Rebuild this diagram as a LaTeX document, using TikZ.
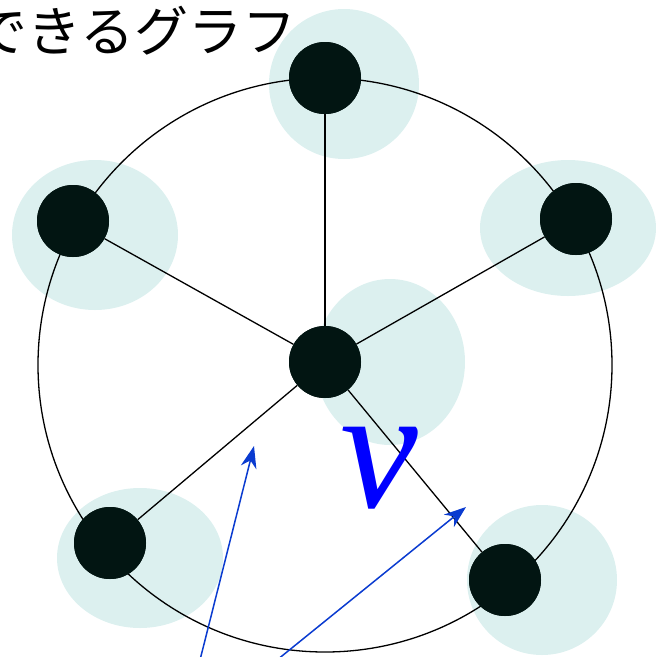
\documentclass[tikz,border=0pt]{standalone}
\usepackage{fontspec}
\newfontfamily\cjk{Noto Sans CJK JP}
\newfontfamily\greekserif{Liberation Serif}
\usetikzlibrary{arrows.meta,shapes.geometric}
\definecolor{halo}{HTML}{DCF0EF}
\definecolor{vert}{HTML}{021512}
\definecolor{arrblue}{HTML}{0A3BD0}
\begin{document}
\begin{tikzpicture}[x=1pt,y=-1pt,
  halostyle/.style={ellipse,fill=halo,draw=none,inner sep=0pt},
  vertex/.style={circle,fill=vert,draw=none,minimum size=72pt,inner sep=0pt},
  edge/.style={draw=black,line width=1.3pt},
  pointer/.style={draw=arrblue,line width=1.5pt,-{Stealth[length=22pt,width=16pt]}}]
\useasboundingbox (0,0) rectangle (656,657);
% halos
\node[halostyle,minimum width=150pt,minimum height=150pt] (hT) at (344,84) {};
\node[halostyle,minimum width=166pt,minimum height=150pt] (hUL) at (95,235) {};
\node[halostyle,minimum width=176pt,minimum height=136pt] (hUR) at (568,228) {};
\node[halostyle,minimum width=150pt,minimum height=166pt] (hC) at (390,362) {};
\node[halostyle,minimum width=166pt,minimum height=140pt] (hLL) at (140,558) {};
\node[halostyle,minimum width=150pt,minimum height=150pt] (hLR) at (542,580) {};
% big circle
\coordinate (O) at (325,365);
\draw[edge] (O) circle[radius=287];
% vertices
\node[vertex] (T) at (325,78) {};
\node[vertex] (UL) at (73,221) {};
\node[vertex] (UR) at (576,219) {};
\node[vertex] (C) at (325,362) {};
\node[vertex] (LL) at (110,543) {};
\node[vertex] (LR) at (505,580) {};
% spokes
\draw[edge] (C) -- (T);
\draw[edge] (C) -- (UL);
\draw[edge] (C) -- (UR);
\draw[edge] (C) -- (LL);
\draw[edge] (C) -- (LR);
% redraw vertices over spokes
\node[vertex] at (T) {};
\node[vertex] at (UL) {};
\node[vertex] at (UR) {};
\node[vertex] at (C) {};
\node[vertex] at (LL) {};
\node[vertex] at (LR) {};
% label
\node[text=blue,inner sep=0pt] (nu) at (379,468) {\greekserif\itshape\fontsize{175}{175}\selectfont ν};
% title
\node[anchor=east,inner sep=0pt] (title) at (297,31) {\cjk\fontsize{54}{54}\selectfont できるグラフ};
% pointers
\coordinate (p1) at (200,660);
\coordinate (q1) at (254,446);
\coordinate (p2) at (277,660);
\coordinate (q2) at (466,507);
\draw[pointer] (p1) -- (q1);
\draw[pointer] (p2) -- (q2);
\end{tikzpicture}
\end{document}
